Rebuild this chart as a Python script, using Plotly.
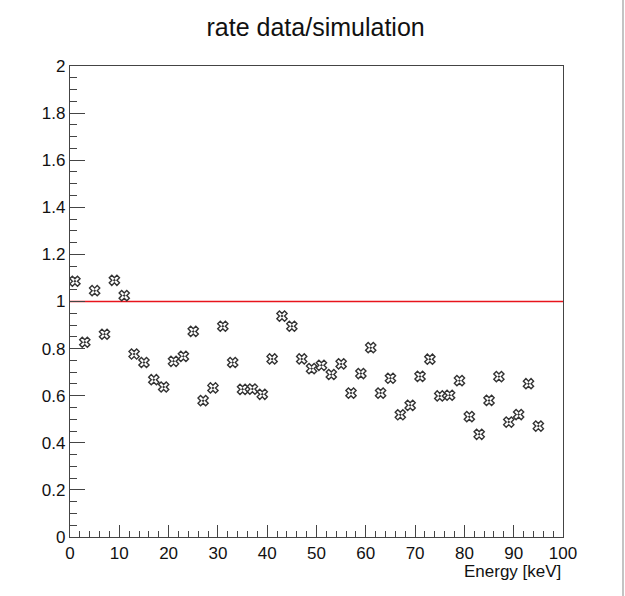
import plotly.graph_objects as go

energy = [1, 3, 5, 7, 9, 11, 13, 15, 17, 19, 21, 23, 25, 27, 29, 31, 33, 35, 37, 39,
          41, 43, 45, 47, 49, 51, 53, 55, 57, 59, 61, 63, 65, 67, 69, 71, 73, 75, 77, 79,
          81, 83, 85, 87, 89, 91, 93, 95]
ratio = [1.086, 0.827, 1.046, 0.861, 1.090, 1.025, 0.777, 0.741, 0.668, 0.637,
         0.746, 0.767, 0.873, 0.579, 0.633, 0.895, 0.741, 0.627, 0.628, 0.606,
         0.756, 0.938, 0.895, 0.756, 0.715, 0.729, 0.690, 0.735, 0.611, 0.694,
         0.804, 0.611, 0.674, 0.519, 0.559, 0.682, 0.755, 0.599, 0.602, 0.664,
         0.511, 0.436, 0.580, 0.681, 0.488, 0.520, 0.651, 0.471]
ref_level = 1.0
x_range = [0, 100]
y_range = [0, 2]

font = "Liberation Sans, Arial, sans-serif"
axcol = "#444444"

fig = go.Figure()
fig.add_trace(go.Scatter(
    x=x_range, y=[ref_level, ref_level], mode="lines",
    line=dict(color="#e8141c", width=1.3), showlegend=False, hoverinfo="skip",
))
fig.add_trace(go.Scatter(
    x=energy, y=ratio, mode="markers",
    marker=dict(symbol="x-open-dot", size=9, color="#333333",
                line=dict(color="#333333", width=1.4)),
    showlegend=False,
))

# canvas edge line
fig.add_shape(type="line", xref="paper", yref="paper", x0=1.1217, x1=1.1217,
              y0=-0.2, y1=1.2, line=dict(color="#b0b0b0", width=1.5))

fig.update_layout(
    width=625, height=596,
    margin=dict(l=70, r=62, t=66, b=59),
    paper_bgcolor="white", plot_bgcolor="white",
    font=dict(family=font, color="#111111", size=17),
    title=dict(text="rate data/simulation", x=0.505, xanchor="center",
               y=1 - 27 / 596, yanchor="middle",
               font=dict(family=font, size=25, color="#111111")),
    xaxis=dict(range=x_range, showgrid=False, zeroline=False,
               showline=True, linecolor=axcol, linewidth=1.3, mirror=True,
               ticks="inside", ticklen=12, tickwidth=1.2, tickcolor=axcol,
               tickmode="linear", tick0=0, dtick=10,
               minor=dict(ticks="inside", ticklen=6, dtick=2, tickwidth=1, tickcolor=axcol),
               tickfont=dict(size=17), ticklabelstandoff=0),
    yaxis=dict(range=y_range, showgrid=False, zeroline=False,
               showline=True, linecolor=axcol, linewidth=1.3, mirror=True,
               ticks="inside", ticklen=15, tickwidth=1.2, tickcolor=axcol,
               tickmode="linear", tick0=0, dtick=0.2,
               minor=dict(ticks="inside", ticklen=7, dtick=0.05, tickwidth=1, tickcolor=axcol),
               tickfont=dict(size=17), ticklabelstandoff=0),
    annotations=[dict(text="Energy [keV]", xref="paper", yref="paper",
                      x=1.0, y=-0.074, xanchor="right", yanchor="middle",
                      showarrow=False, font=dict(family=font, size=17, color="#111111"))],
)

fig.write_html("out.html")
